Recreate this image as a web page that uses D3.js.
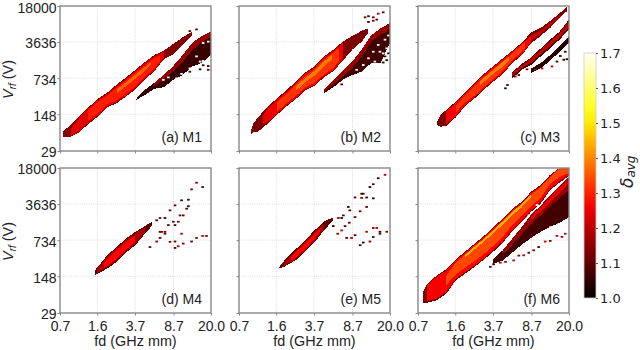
<!DOCTYPE html>
<html><head><meta charset="utf-8">
<script src="https://cdn.jsdelivr.net/npm/d3@7"></script>
<style>
html,body{margin:0;padding:0;background:#fff}
svg{display:block}
text{font-family:"Liberation Sans",Arial,sans-serif;fill:#222}
</style></head><body><svg id="c" width="640" height="350"></svg>
<script>
// Axis ticks
const fdTicks=[0.7,1.6,3.7,8.7,20];
const fdLabels=["0.7","1.6","3.7","8.7","20.0"];
const vTicks=[29,148,734,3636,18000];
const cbarTicks=[1.0,1.1,1.2,1.3,1.4,1.5,1.6,1.7];
const panelNames=["(a) M1","(b) M2","(c) M3","(d) M4","(e) M5","(f) M6"];

// Ribbons: rows of [fd, V upper, V lower]
const m1Outer=[[.74,68,55],[.863,88,53],[1.064,133,66],[1.312,201,96],[1.618,291,133],[1.995,385,201],[2.46,549,241],[3.03,760,324],[3.74,1063,447],[4.61,1500,681],[5.69,2050,1010],[7.01,2490,1680],[8.65,3340,2130],[10.66,4480,3180],[13.15,5760,4860]];
const m1Body=[[.9,80,56],[1.064,125,70],[1.312,190,101],[1.618,277,140],[1.995,365,212],[2.46,520,254],[3.03,720,340],[3.74,1010,470],[4.61,1425,715],[5.69,1950,1060],[7.01,2350,1760]];
const m1Core=[[1.312,175,112],[1.618,250,155],[1.995,335,232],[2.46,480,275],[3.03,660,370],[3.74,930,510],[4.61,1300,780],[5.69,1750,1150],[6.5,2050,1550]];
const m1Peak=[[2.46,440,370],[3.03,610,510],[3.74,860,720],[4.61,1200,1000],[5.3,1500,1350]];
const m1Lower=[[3.75,285,275],[4.61,436,347],[5.69,600,459],[7.01,845,490],[8.65,1260,681],[10.66,2040,843],[13.15,3510,1228],[16.2,4690,1430],[20,5800,2050]];
const m1Strip=[[5.69,600,520],[7.01,845,700],[8.65,1260,1000],[10.66,2040,1500],[13.15,3510,2500],[16.2,4690,3600],[20,5800,4600]];

const m2Outer=[[.907,68,61],[.958,96,66],[1.064,129,68],[1.312,201,96],[1.618,299,143],[1.995,422,208],[2.46,630,287],[3.03,935,422],[3.74,1233,520],[4.61,1925,758],[5.69,2591,1000],[7.01,3700,1590],[8.65,4750,2591],[10.66,6000,3700],[12.3,6660,5443]];
const m2Body=[[1.2,140,95],[1.312,190,102],[1.618,282,150],[1.995,400,218],[2.46,600,300],[3.03,890,440],[3.74,1170,545],[4.61,1830,795],[5.69,2460,1050],[7.01,3500,1670]];
const m2Core=[[1.618,250,165],[1.995,360,240],[2.46,540,330],[3.03,800,480],[3.74,1080,600],[4.61,1650,870],[5.69,2250,1150],[6.5,2800,1600]];
const m2Peak=[[2.46,500,410],[3.03,730,610],[3.74,1010,820],[4.61,1500,1200],[5.5,2100,1700]];
const m2Lower=[[4.61,446,376],[5.69,681,490],[7.01,1000,681],[8.65,1530,843],[10.66,2591,975],[13.15,4870,1430],[16.2,6660,1430],[20,8500,3486]];
const m2Strip=[[4.61,446,400],[5.69,681,560],[7.01,1000,780],[8.65,1530,1150],[10.66,2591,1900],[13.15,4870,3700],[16.2,6660,5000],[20,8500,6300]];

const m3Outer=[[1.064,106,92],[1.15,143,85],[1.312,179,89],[1.618,259,129],[1.995,400,214],[2.46,587,299],[3.03,887,443],[3.74,1255,632],[4.61,1775,887],[5.69,2480,1430],[7.01,3540,2040],[8.65,5570,3486],[10.66,6800,4780],[13.15,9290,6800],[16.2,13000,10500],[19,17000,14200]];
const m3Body=[[1.3,165,95],[1.618,247,135],[1.995,380,225],[2.46,560,315],[3.03,845,465],[3.74,1195,665],[4.61,1690,930],[5.69,2360,1500],[7.01,3370,2140],[8.65,4800,3660]];
const m3Core=[[1.618,215,160],[1.995,340,250],[2.46,510,340],[3.03,780,500],[3.74,1100,710],[4.61,1550,1000],[5.69,2200,1620],[7.5,3700,2700]];
const m3Peak=[[2.8,650,540],[3.03,750,620],[3.74,1060,890],[4.61,1500,1230],[5.3,1950,1650]];
const m3Tip=[[8.65,5000,3800],[10.66,6200,5200],[13.15,8500,7400],[16.2,12000,11000]];
const m3Lower=[[5.69,975,730],[7.01,1374,1063],[8.65,1840,1313],[10.66,2750,1925],[13.15,4044,2750],[16.2,5750,4044],[20,9861,6315]];
const m3Strip=[[5.69,920,800],[7.01,1300,1150],[8.65,1750,1450],[10.66,2600,2100],[13.15,3800,3000],[16.2,5450,4400],[20,9300,6900]];
const m3Third=[[8.65,1130,935],[10.66,1430,1130],[13.15,2040,1590],[16.2,3050,2370],[20,4692,3486]];

const m4Outer=[[1.52,192,154],[1.618,223,166],[1.995,376,208],[2.46,541,279],[3.03,790,422],[3.74,1063,587],[4.61,1370,975],[5.36,1659,1370]];
const m4Body=[[1.6,205,172],[1.995,355,220],[2.46,515,295],[3.03,750,445],[3.74,1010,620],[4.61,1250,1050]];
const m4Core=[[1.85,270,210],[2.46,470,320],[3.03,680,480],[3.74,900,680]];

const m5Outer=[[1.71,223,208],[1.9,290,223],[1.995,324,241],[2.46,488,299],[3.03,730,436],[3.74,1130,662],[4.61,1659,1130],[5.69,2040,1770]];
const m5Body=[[1.9,270,232],[2.46,465,315],[3.03,695,460],[3.74,1070,700],[4.61,1500,1200]];
const m5Core=[[2.2,340,290],[2.46,430,335],[3.03,630,490],[3.74,960,760],[4.2,1200,1050]];

const m6Outer=[[.777,73,46],[.863,106,46],[1.064,154,51],[1.312,201,68],[1.618,312,124],[1.995,443,166],[2.46,630,225],[3.03,885,310],[3.74,1310,443],[4.61,1925,660],[5.69,2960,1100],[7.01,4044,1659],[8.65,6315,2591],[10.66,8500,3700],[13.15,13300,6800],[16.2,18000,9370],[20,18000,12600]];
const m6Body=[[.86,100,50],[1.064,147,55],[1.312,191,73],[1.618,297,132],[1.995,422,176],[2.46,600,238],[3.03,843,328],[3.74,1248,470],[4.61,1833,700],[5.69,2820,1166],[7.01,3850,1760],[8.65,6010,2750],[10.66,8100,3920],[13.15,12700,7200],[16.2,18000,9900],[20,18000,13400]];
const m6Core=[[1.312,150,100],[1.618,270,160],[1.995,390,215],[2.46,560,290],[3.03,790,400],[3.74,1170,570],[4.61,1720,860],[5.69,2650,1440],[7.01,3650,2150],[8.65,5650,3350],[10.66,7650,4800],[13.15,12000,8900],[16.2,18000,12000],[20,18000,14500]];
const m6Streak=[[1.995,385,340],[2.46,555,490],[3.03,780,690],[3.74,1150,1000],[4.61,1700,1480],[5.69,2600,2250],[7.01,3600,3150],[8.65,5600,4950]];
const m6Lower=[[3.74,324,259],[4.61,470,299],[5.69,790,422],[7.01,1310,600],[8.65,2300,810],[10.66,3400,1063],[13.15,5400,1310],[16.2,8200,1590],[20,12000,2040]];
const m6Strip=[[4.61,470,380],[5.69,790,600],[7.01,1310,950],[8.65,2300,1500],[10.66,3400,2200],[13.15,5400,3300],[16.2,8200,4700],[20,12000,7000]];
const m6Glow=[[8.65,2100,1800],[10.66,3200,2600],[13.15,5000,3900],[16.2,7600,5800],[20,11200,9000]];

// Isolated cells: [fd, V, delta]
const m1Cells=[[14.5,6370,1.1],[12.5,5900,1.1],[15.7,1085,1.05],[18.8,1063,1.1],[18.8,1255,1.05],[12.5,975,1.1],[16.8,1300,1.05]];
const m2Cells=[[11.5,10900,1.1],[12.4,11440,1.05],[13.8,10900,1.1],[15.4,12800,1.2],[17.2,13600,1.1],[12.4,8870,1.05],[13.8,9370,1.15],[14.9,9861,1.1],[6.84,557,1.1],[17.2,1470,1.05],[18.6,1630,1.05],[17.9,1925,1.05],[19.3,2200,1.05]];
const m3Cells=[[4.88,468,1.05],[5.1,541,1.1],[6.07,790,1.15],[6.56,843,1.1],[7.87,1085,1.15],[9.46,1085,1.15],[11,1130,1.2],[13.7,1233,1.2],[15.3,1530,1.05],[17.8,1659,1.05],[19.1,1700,1.05],[16.5,1960,1.05],[18.4,2370,1.05]];
const m4Cells=[[5.16,540,1.12],[5.99,690,1.15],[6.45,1060,1.1],[6.69,1060,1.15],[7.2,1060,1.1],[7.76,1430,1.1],[8.67,1660,1.12],[10.05,2200,1.12],[11.65,2960,1.1],[12.1,3300,1.05],[5.99,1770,1.1],[6.45,1960,1.12],[7.2,1960,1.05],[8.05,2750,1.1],[9,3430,1.1],[10.4,4290,1.05],[12.1,4410,1.05],[13,6980,1.15],[14.5,9370,1.15],[16.6,7740,1.05],[8.05,680,1.15],[9,690,1.1],[10.4,975,1.2],[9.68,560,1.2],[9,520,1.1],[10.8,630,1.15],[13,690,1.1],[14.5,810,1.15],[16.6,885,1.2],[18.1,885,1.15],[6.45,810,1.1],[7.2,975,1.15],[9,1430,1.1],[9.68,1660,1.15],[10.8,2200,1.1]];
const m5Cells=[[6.36,1960,1.15],[7.1,2200,1.1],[7.93,3200,1.05],[8.2,2750,1.1],[9.2,4870,1.1],[10.65,4780,1.15],[11.9,4870,1.05],[12.8,7740,1.05],[13.8,8760,1.1],[15.4,11440,1.05],[17.9,13300,1.2],[11.05,5750,1.1],[10.65,5750,1.05],[6.26,975,1.15],[6.84,1130,1.2],[7.37,1370,1.1],[8.1,1590,1.1],[9.2,2040,1.12],[10.3,2640,1.12],[11.9,3200,1.1],[13.8,4690,1.05],[6.84,1960,1.05],[5.68,1370,1.05],[7.64,810,1.1],[8.52,810,1.15],[9.2,916,1.1],[10.3,587,1.1],[11.05,660,1.05],[12.8,690,1.15],[13.8,843,1.1],[11.9,1063,1.2],[13.8,1260,1.15],[14.9,1260,1.2],[16,975,1.1],[18.6,1063,1.15],[16,1063,1.05]];
const m6Cells=[[3.49,225,1.1],[3.75,252,1.05],[4.35,270,1.2],[4.88,280,1.15],[5.85,299,1.2],[6.56,370,1.15],[7.31,375,1.2],[8.19,420,1.1],[9.12,468,1.15],[10.2,540,1.1],[11.8,690,1.2],[13.2,710,1.15],[15.3,887,1.2],[17.1,850,1.15],[18.4,975,1.2]];

// Uncovered cells inside the lower bands: [fd, V]
const m1Holes=[[6.94,681],[7.76,758],[9.3,727],[10.4,887],[12.5,1130],[14.5,1925],[15.7,1530],[16.8,1570],[18.4,1590],[18.8,3700],[16.8,3486]];
const m2Holes=[[9.54,1063],[11.05,1313],[12.4,1770],[13.8,2370],[15.4,3200],[17.9,4044],[19.3,4870],[16,2370],[17.2,2200],[18.6,2750],[14.3,1530],[17.9,1530],[19.3,1770]];
const m6Holes=[[6.56,1313],[8.19,2200],[9.83,3486],[13.2,1300],[15.9,1480],[17.1,1480]];

// Colour scale samples (delta, colour)
const cmapDelta=[1.0,1.27,1.52,1.7];
const cmapColors=["#000000","#ff0000","#ffff00","#fffff4"];

const panels=[
 {col:0,row:0,layers:[[m1Lower,1.06],[m1Strip,1.16],[m1Outer,1.14],[m1Body,1.24],[m1Core,1.3],[m1Peak,1.37]],cells:m1Cells,holes:m1Holes},
 {col:1,row:0,layers:[[m2Lower,1.07],[m2Strip,1.16],[m2Outer,1.13],[m2Body,1.25],[m2Core,1.32],[m2Peak,1.39]],cells:m2Cells,holes:m2Holes},
 {col:2,row:0,layers:[[m3Lower,1.08],[m3Strip,1.2],[m3Third,1.04],[m3Outer,1.13],[m3Tip,1.2],[m3Body,1.26],[m3Core,1.32],[m3Peak,1.39]],cells:m3Cells,holes:[]},
 {col:0,row:1,layers:[[m4Outer,1.1],[m4Body,1.18],[m4Core,1.27]],cells:m4Cells,holes:[]},
 {col:1,row:1,layers:[[m5Outer,1.1],[m5Body,1.18],[m5Core,1.27]],cells:m5Cells,holes:[]},
 {col:2,row:1,layers:[[m6Lower,1.07],[m6Strip,1.16],[m6Glow,1.24],[m6Outer,1.13],[m6Body,1.26],[m6Core,1.34],[m6Streak,1.44]],cells:m6Cells,holes:m6Holes}
];

const colLeft=[60,239,418],rowTop=[6,168],pw=151,ph=145;
const svg=d3.select("#c");
const color=d3.scaleLinear().domain(cmapDelta).range(cmapColors).interpolate(d3.interpolateRgb);

const defs=svg.append("defs");
defs.append("filter").attr("id","soft").attr("x","-5%").attr("y","-5%").attr("width","110%").attr("height","110%")
  .append("feGaussianBlur").attr("stdDeviation",0.35);

panels.forEach((p,i)=>{
  const left=colLeft[p.col],top=rowTop[p.row];
  const x=d3.scaleLog().domain([0.7,20]).range([0,pw]);
  const y=d3.scaleLog().domain([29,18000]).range([ph,0]);
  const g=svg.append("g").attr("transform",`translate(${left},${top})`);
  defs.append("clipPath").attr("id","clip"+i).append("rect").attr("width",pw).attr("height",ph);

  // grid
  const grid=g.append("g").attr("stroke","#d4d4d4").attr("stroke-width",0.8).attr("stroke-dasharray","1 1.2");
  grid.selectAll("line.gx").data(fdTicks.slice(1,-1)).join("line").attr("class","gx")
    .attr("x1",d=>x(d)).attr("x2",d=>x(d)).attr("y1",0).attr("y2",ph);
  grid.selectAll("line.gy").data(vTicks.slice(1,-1)).join("line").attr("class","gy")
    .attr("x1",0).attr("x2",pw).attr("y1",d=>y(d)).attr("y2",d=>y(d));

  // heat
  const heat=g.append("g").attr("clip-path",`url(#clip${i})`).append("g").attr("filter","url(#soft)");
  const area=d3.area().x(d=>x(d[0])).y0(d=>y(d[2])).y1(d=>y(d[1]));
  heat.selectAll("path").data(p.layers).join("path")
    .attr("d",d=>area(d[0])).attr("fill",d=>color(d[1])).attr("shape-rendering","crispEdges");
  heat.selectAll("rect.hole").data(p.holes).join("rect").attr("class","hole")
    .attr("x",d=>x(d[0])-1.3).attr("y",d=>y(d[1])-0.9).attr("width",2.6).attr("height",1.8).attr("fill","#fff");
  heat.selectAll("rect.cell").data(p.cells).join("rect").attr("class","cell")
    .attr("x",d=>x(d[0])-1.3).attr("y",d=>y(d[1])-0.9).attr("width",2.6).attr("height",1.8).attr("fill",d=>color(d[2]));

  // axes
  const ax=d3.axisBottom(x).tickValues(fdTicks).tickSize(2.5).tickPadding(p.row===1?5.5:0)
    .tickFormat((d,j)=>p.row===1?fdLabels[j]:"");
  const ay=d3.axisLeft(y).tickValues(vTicks).tickSize(2.5).tickPadding(1)
    .tickFormat(d=>p.col===0?d:"");
  const gx=g.append("g").attr("transform",`translate(0,${ph})`).call(ax);
  const gy=g.append("g").call(ay);
  [gx,gy].forEach(a=>{
    a.select(".domain").remove();
    a.selectAll("line").attr("stroke","#888").attr("stroke-width",1);
    a.selectAll("text").attr("font-size",14).attr("font-family","Liberation Sans").attr("fill","#222");
  });
  gy.selectAll("text").attr("dy",d=>(d===18000&&p.row===0)?"0.49em":"0.42em");
  g.append("rect").attr("width",pw).attr("height",ph).attr("fill","none").attr("stroke","#888").attr("stroke-width",1.4);

  g.append("text").attr("x",pw-9).attr("y",ph-9).attr("text-anchor","end").attr("font-size",14).text(panelNames[i]);

  if(p.row===1) g.append("text").attr("x",pw/2).attr("y",ph+33).attr("text-anchor","middle").attr("font-size",14.4).text("fd (GHz mm)");
  if(p.col===0){
    const t=g.append("text").attr("transform",`translate(${-47},${ph/2+1}) rotate(-90)`).attr("text-anchor","middle").attr("font-size",14.4);
    t.append("tspan").attr("font-style","italic").text("V");
    t.append("tspan").attr("font-size",10).attr("dy",3).attr("font-style","italic").text("rf");
    t.append("tspan").attr("dy",-3).text(" (V)");
  }
});

// colour bar
const cbX=584,cbW=12,cbTop=53,cbBottom=298;
const cy=d3.scaleLinear().domain([1.0,1.7]).range([cbBottom,cbTop]);
const grad=defs.append("linearGradient").attr("id","cb").attr("x1",0).attr("x2",0).attr("y1",1).attr("y2",0);
d3.range(1.0,1.7001,0.05).forEach(v=>grad.append("stop").attr("offset",(v-1)/0.7).attr("stop-color",color(v)));
svg.append("rect").attr("x",cbX).attr("y",cbTop).attr("width",cbW).attr("height",cbBottom-cbTop)
  .attr("fill","url(#cb)").attr("stroke","#ccc").attr("stroke-width",0.8);
const cAxis=d3.axisRight(cy).tickValues(cbarTicks).tickSize(2).tickPadding(2).tickFormat(d3.format(".1f"));
const gc=svg.append("g").attr("transform",`translate(${cbX+cbW},0)`).call(cAxis);
gc.select(".domain").remove();
gc.selectAll("line").attr("stroke","#333").attr("stroke-width",0.8);
gc.selectAll("text").attr("font-family","DejaVu Sans").attr("font-size",13).attr("fill","#222").attr("style",'font-family:"DejaVu Sans"');
const lab=svg.append("text").attr("transform","translate(633,188) rotate(-90)").attr("text-anchor","start")
  .attr("font-size",17).attr("font-style","italic").attr("style",'font-family:"DejaVu Sans"');
lab.append("tspan").text("δ");
lab.append("tspan").attr("font-size",12).attr("dy",2).text("avg");
</script></body></html>
